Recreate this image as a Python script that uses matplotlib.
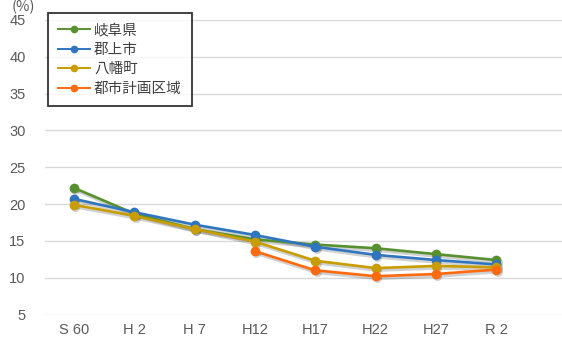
import numpy as np
import matplotlib
matplotlib.use('Agg')
import matplotlib.pyplot as plt
from matplotlib.lines import Line2D
from matplotlib.transforms import offset_copy

plt.rcParams['font.family'] = ['Noto Sans CJK JP', 'DejaVu Sans']

# Share of young population (%) by census year
years = ['S 60', 'H 2', 'H 7', 'H12', 'H17', 'H22', 'H27', 'R 2']
gifu = [22.2, 18.7, 16.6, 15.2, 14.5, 14.0, 13.2, 12.4]
gujo = [20.7, 18.9, 17.2, 15.8, 14.2, 13.1, 12.4, 11.8]
hachiman = [19.9, 18.4, 16.6, 14.9, 12.3, 11.3, 11.6, 11.4]
toshi = [np.nan, np.nan, np.nan, 13.6, 11.0, 10.2, 10.5, 11.1]

names = ['岐阜県', '郡上市', '八幡町', '都市計画区域']
colors = ['#58902f', '#2f75c0', '#c99c00', '#ff6a0f']

fig = plt.figure(figsize=(5.62, 3.4), dpi=100)
ax = fig.add_axes([45 / 562, 1 - 314.5 / 340, 1 - 45 / 562, 294.5 / 340])

x = np.arange(len(years))
# soft drop shadow under each series
shadow_tr = offset_copy(ax.transData, fig=fig, x=1.5, y=-2, units='dots')
for vals, name, c in zip([gifu, gujo, hachiman, toshi], names, colors):
    ax.plot(x, vals, color='black', alpha=0.18, lw=2.6, marker='o', ms=6.5,
            mec='none', transform=shadow_tr, zorder=2)
    ax.plot(x, vals, color=c, lw=1.9, marker='o', ms=6, zorder=3)

ax.set_ylim(5, 45)
ax.set_yticks(np.arange(5, 46, 5))
ax.set_xlim(-0.48, 8.09)
ax.set_xticks(x)
ax.set_xticklabels(years)
ax.grid(axis='y', color='#d9d9d9', lw=1)
ax.set_axisbelow(True)
for s in ax.spines.values():
    s.set_visible(False)
ax.tick_params(length=0, colors='#595959', labelsize=10.5)
ax.tick_params(axis='x', pad=6)
ax.tick_params(axis='y', pad=14)
for lab in ax.get_xticklabels() + ax.get_yticklabels():
    lab.set_family(['Liberation Sans Narrow', 'Liberation Sans', 'DejaVu Sans'])

handles = [Line2D([], [], color=c, lw=1.4, marker='o', ms=4.5) for c in colors]
leg = ax.legend(handles, names, loc='upper left',
                bbox_to_anchor=(0.0058, 1.024), borderaxespad=0,
                frameon=True, fancybox=False, edgecolor='black',
                fontsize=10.5, handlelength=2.2, handletextpad=0.25,
                labelspacing=0.38, borderpad=0.7, labelcolor='#404040')
leg.get_frame().set_linewidth(1.3)

fig.text(0.02, 1.0, '(%)', fontsize=10.5, color='#595959', va='top')

fig.savefig('out.png', dpi=100)
